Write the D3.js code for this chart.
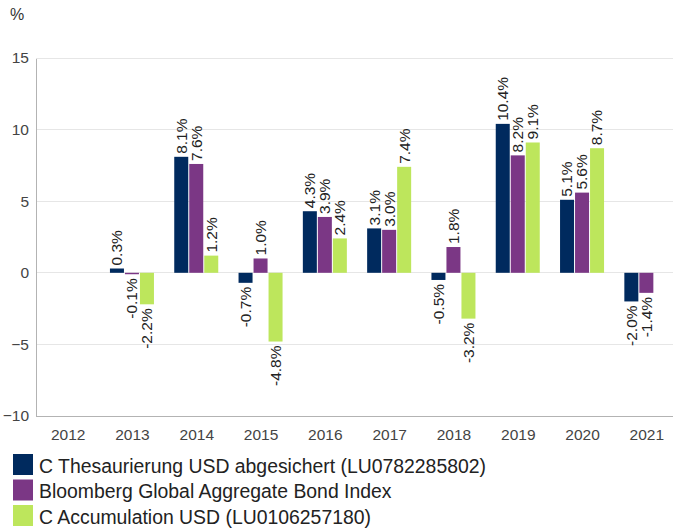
<!DOCTYPE html>
<html><head><meta charset="utf-8">
<script src="https://cdn.jsdelivr.net/npm/d3@7/dist/d3.min.js"></script>
<style>
html,body{margin:0;padding:0;background:#fff;}
svg{display:block;font-family:"Liberation Sans",Arial,sans-serif;}
</style></head>
<body>
<svg id="chart" width="673" height="531"></svg>
<script>
const years = ["2012","2013","2014","2015","2016","2017","2018","2019","2020","2021"];
const seriesNames = ["C Thesaurierung USD abgesichert (LU0782285802)","Bloomberg Global Aggregate Bond Index","C Accumulation USD (LU0106257180)"];
const fundThes = [null, 0.3, 8.1, -0.7, 4.3, 3.1, -0.5, 10.4, 5.1, -2.0];
const bloomberg = [null, -0.1, 7.6, 1.0, 3.9, 3.0, 1.8, 8.2, 5.6, -1.4];
const fundAcc = [null, -2.2, 1.2, -4.8, 2.4, 7.4, -3.2, 9.1, 8.7, null];
const yTicks = [-10, -5, 0, 5, 10, 15];
const colors = ["#002a5e", "#7b3785", "#bde65c"];

(function(){
const seriesValues = [fundThes, bloomberg, fundAcc];
const svg = d3.select("#chart");
const mLeft = 36, mRight = 679, mTop = 58, mBottom = 416;

const y = d3.scaleLinear().domain([-10, 15]).range([mBottom, mTop]);
const x0 = d3.scaleBand().domain(years).range([mLeft, mRight]).paddingInner(0.3).paddingOuter(0.15);
const x1 = d3.scaleBand().domain([0,1,2]).range([0, x0.bandwidth()]);

svg.append("g").selectAll("line").data(yTicks.filter(t => t > -10)).join("line")
  .attr("x1", mLeft).attr("x2", 673).attr("y1", d => y(d)).attr("y2", d => y(d))
  .attr("stroke", "#e6e6e6").attr("stroke-width", 1).attr("shape-rendering","crispEdges");

const yAxis = svg.append("g").attr("transform", `translate(${mLeft},0)`)
  .call(d3.axisLeft(y).tickValues(yTicks).tickSize(0).tickPadding(7));
yAxis.select(".domain").attr("stroke", "#b3b3b3").attr("shape-rendering","crispEdges");
yAxis.selectAll("text").attr("font-size", 15.5).attr("fill", "#444").attr("font-family", "Liberation Sans, Arial, sans-serif");

const xAxis = svg.append("g").attr("transform", `translate(0,${mBottom})`)
  .call(d3.axisBottom(x0).tickSize(0).tickPadding(13));
xAxis.select(".domain").attr("d", `M${mLeft},0.5H673`).attr("stroke", "#b3b3b3");
xAxis.selectAll("text").attr("font-size", 15.5).attr("fill", "#444").attr("font-family", "Liberation Sans, Arial, sans-serif");

svg.append("text").attr("x", 10).attr("y", 20).attr("font-size", 16).attr("fill", "#333").text("%");

const data = [];
years.forEach((yr, i) => seriesValues.forEach((s, k) => { if (s[i] !== null) data.push({yr, k, v: s[i]}); }));

svg.append("g").selectAll("rect").data(data).join("rect")
  .attr("x", d => x0(d.yr) + x1(d.k))
  .attr("width", x1.bandwidth() - 1)
  .attr("y", d => y(Math.max(0, d.v)))
  .attr("height", d => Math.abs(y(d.v) - y(0)))
  .attr("fill", d => colors[d.k]);

svg.append("g").selectAll("text").data(data).join("text")
  .attr("transform", d => {
    const cx = x0(d.yr) + x1(d.k) + (x1.bandwidth() - 1) / 2;
    const yy = d.v >= 0 ? y(d.v) - 3 : y(d.v) + 4;
    return `translate(${cx},${yy}) rotate(-90)`;
  })
  .attr("dy", "0.35em")
  .attr("text-anchor", d => d.v >= 0 ? "start" : "end")
  .attr("font-size", 15.5).attr("fill", "#222")
  .text(d => d.v.toFixed(1) + "%");

const lg = svg.append("g");
seriesNames.forEach((name, k) => {
  const yy = 454 + k * 25.5;
  lg.append("rect").attr("x", 13).attr("y", yy).attr("width", 20).attr("height", 21).attr("fill", colors[k]);
  lg.append("text").attr("x", 39).attr("y", yy + 18.5).attr("font-size", 19.4).attr("fill", "#222").text(name);
});
})();
</script>
</body></html>
